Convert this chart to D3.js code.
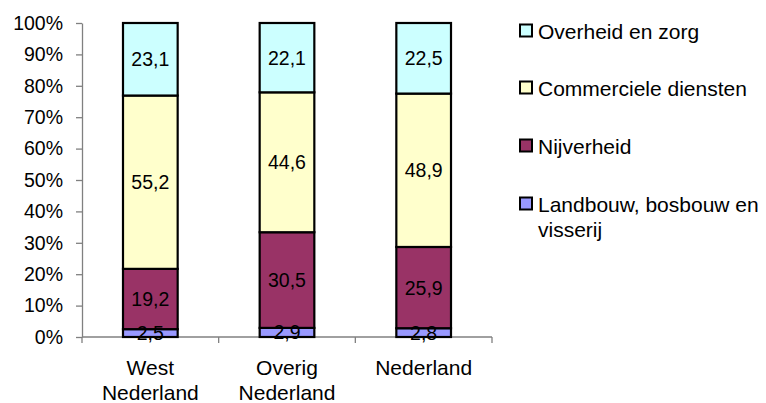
<!DOCTYPE html>
<html><head><meta charset="utf-8">
<script src="https://cdn.jsdelivr.net/npm/d3@7"></script>
<style>body{margin:0;background:#fff}svg{display:block;font-family:"Liberation Sans",Arial,sans-serif}</style>
</head><body><svg id="c" width="766" height="403"></svg>
<script>
const categories = ["West Nederland", "Overig Nederland", "Nederland"];
const categoryLines = [["West","Nederland"],["Overig","Nederland"],["Nederland"]];
const seriesNames = ["Landbouw, bosbouw en visserij", "Nijverheid", "Commerciele diensten", "Overheid en zorg"];
const landbouw = [2.5, 2.9, 2.8];
const nijverheid = [19.2, 30.5, 25.9];
const commercieel = [55.2, 44.6, 48.9];
const overheid = [23.1, 22.1, 22.5];
const colors = ["#9999FF", "#993366", "#FFFFCC", "#CCFFFF"];
const yTicks = [0,10,20,30,40,50,60,70,80,90,100];

const FONT = "'Liberation Sans', Arial, sans-serif";
const FS = 19.5, FT = 21;
const svg = d3.select("#c");
const mLeft = 82, mRight = 492, mTop = 23, mBottom = 337;
const x = d3.scaleBand().domain(categories).range([mLeft, mRight]).paddingInner(0.6).paddingOuter(0.3);
const xb = d3.scaleBand().domain(categories).range([mLeft, mRight]);
const y = d3.scaleLinear().domain([0, 100]).range([mBottom, mTop]);

const series = [landbouw, nijverheid, commercieel, overheid];
const rows = categories.map((c, i) => {
  const r = {cat: c};
  const tot = d3.sum(series, s => s[i]);
  seriesNames.forEach((n, k) => r[n] = series[k][i] / tot * 100);
  r.raw = series.map(s => s[i]);
  return r;
});
const stacked = d3.stack().keys(seriesNames)(rows);

// axes
const yAxis = svg.append("g").attr("transform", `translate(${mLeft},0)`)
  .call(d3.axisLeft(y).tickValues(yTicks).tickSize(6).tickSizeOuter(0).tickFormat(d => d + "%"));
yAxis.select(".domain").attr("stroke", "#808080").attr("stroke-width", 1.3);
yAxis.selectAll(".tick line").attr("stroke", "#808080").attr("stroke-width", 1.3);
yAxis.selectAll(".tick text").attr("font-size", FS).attr("fill", "#000").attr("x", -19)
  .attr("font-family", FONT);

const xAxis = svg.append("g").attr("transform", `translate(0,${mBottom})`);
xAxis.append("line").attr("x1", mLeft).attr("x2", mRight).attr("stroke", "#808080").attr("stroke-width", 1.3);
const tickXs = categories.map(c => xb(c)).concat([xb(categories[categories.length-1]) + xb.bandwidth()]);
xAxis.selectAll("line.t").data(tickXs).join("line").attr("class","t")
  .attr("x1", d => d).attr("x2", d => d).attr("y1", 0).attr("y2", 6)
  .attr("stroke", "#808080").attr("stroke-width", 1.3);

// bars
const g = svg.append("g");
stacked.forEach((s, k) => {
  g.selectAll(null).data(s).join("rect")
    .attr("x", d => x(d.data.cat))
    .attr("width", x.bandwidth())
    .attr("y", d => y(d[1]))
    .attr("height", d => y(d[0]) - y(d[1]))
    .attr("fill", colors[k]).attr("stroke", "#000").attr("stroke-width", 2.2);
});
stacked.forEach((s, k) => {
  g.selectAll(null).data(s).join("text")
    .attr("x", d => x(d.data.cat) + x.bandwidth()/2)
    .attr("y", d => (y(d[0]) + y(d[1]))/2)
    .attr("dy", "0.36em").attr("text-anchor", "middle").attr("font-size", FS).attr("fill", "#000")
    .attr("font-family", FONT)
    .text(d => d3.format(".1f")(d.data.raw[k]).replace(".", ","));
});

// category labels
categories.forEach((c, i) => {
  const t = svg.append("text").attr("text-anchor", "middle").attr("font-size", FT).attr("font-family", FONT)
    .attr("x", xb(c) + xb.bandwidth()/2).attr("y", 375);
  categoryLines[i].forEach((ln, j) => t.append("tspan").attr("x", xb(c) + xb.bandwidth()/2).attr("dy", j ? 25 : 0).text(ln));
});

// legend
const legend = [
  {k: 3, y: 31, lines: ["Overheid en zorg"]},
  {k: 2, y: 88, lines: ["Commerciele diensten"]},
  {k: 1, y: 146, lines: ["Nijverheid"]},
  {k: 0, y: 204, lines: ["Landbouw, bosbouw en", "visserij"]}
];
legend.forEach(l => {
  svg.append("rect").attr("x", 520).attr("y", l.y - 6.5).attr("width", 12).attr("height", 12)
    .attr("fill", colors[l.k]).attr("stroke", "#000").attr("stroke-width", 2);
  const t = svg.append("text").attr("font-size", FT).attr("font-family", FONT).attr("x", 538).attr("y", l.y);
  l.lines.forEach((ln, j) => t.append("tspan").attr("x", 538).attr("dy", j ? 25 : "0.36em").text(ln));
});
</script></body></html>
